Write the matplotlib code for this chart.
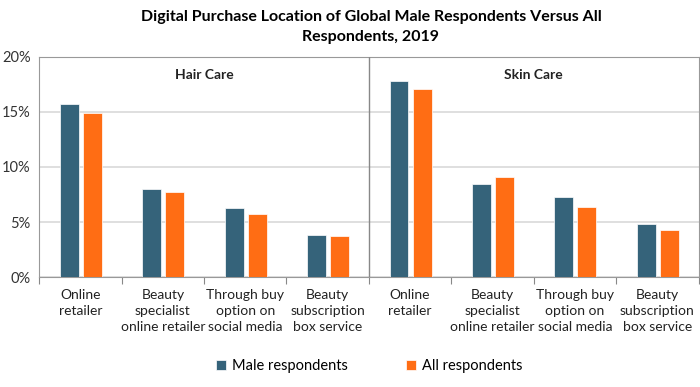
import matplotlib
matplotlib.use("Agg")
import matplotlib.pyplot as plt
import numpy as np

plt.rcParams['font.family'] = ['Lato', 'DejaVu Sans']

groups = ["Hair Care", "Skin Care"]
categories = ["Online\nretailer", "Beauty\nspecialist\nonline retailer",
              "Through buy\noption on\nsocial media", "Beauty\nsubscription\nbox service"]
male = [15.7, 8.0, 6.3, 3.8, 17.8, 8.5, 7.3, 4.8]
all_resp = [14.9, 7.7, 5.7, 3.7, 17.1, 9.1, 6.4, 4.3]

c_male = "#35637a"
c_all = "#ff6d14"

fig = plt.figure(figsize=(7, 3.87), dpi=100)
ax = fig.add_axes([0.056, 0.284, 0.942, 0.569])

x = np.arange(len(male))
w = 0.23
ax.bar(x - 0.135, male, w, color=c_male, edgecolor="white", linewidth=0.5,
       label="Male respondents", zorder=3)
ax.bar(x + 0.145, all_resp, w, color=c_all, edgecolor="white", linewidth=0.5,
       label="All respondents", zorder=3)

ax.set_xlim(-0.5, len(male) - 0.5)
ax.set_ylim(0, 20)
ax.set_yticks([0, 5, 10, 15, 20])
ax.set_yticklabels([f"{v}%" for v in [0, 5, 10, 15, 20]], fontsize=10.5, color="#333333")
ax.yaxis.grid(True, color="#d9d9d9", linewidth=1.2, zorder=0)
ax.tick_params(axis="y", length=0, pad=6)

# tick marks at category boundaries
ax.set_xticks(np.arange(len(male) + 1) - 0.5)
ax.set_xticklabels([])
ax.tick_params(axis="x", direction="out", length=5, color="#888888")
for i in range(len(male)):
    ax.text(i, -1.1, categories[i % 4], ha="center", va="top", fontsize=10,
            color="#222222", linespacing=1.4)

for s in ax.spines.values():
    s.set_color("#999999")
ax.axvline(3.5, color="#888888", linewidth=1, zorder=4)

for gi, g in enumerate(groups):
    ax.text(1.5 + 4 * gi, 18.4, g, ha="center", va="center", fontsize=10,
            fontweight="bold", color="#222222")

fig.text(0.53, 0.93, "Digital Purchase Location of Global Male Respondents Versus All\nRespondents, 2019",
         ha="center", va="center", fontsize=11.5, fontweight="bold", linespacing=1.55)

ax.legend(loc="center", bbox_to_anchor=(0.5, -0.405), ncol=2, frameon=False,
          fontsize=10.5, handlelength=0.7, handleheight=0.7, columnspacing=4, handletextpad=0.4)

fig.savefig("out.png", dpi=100)
